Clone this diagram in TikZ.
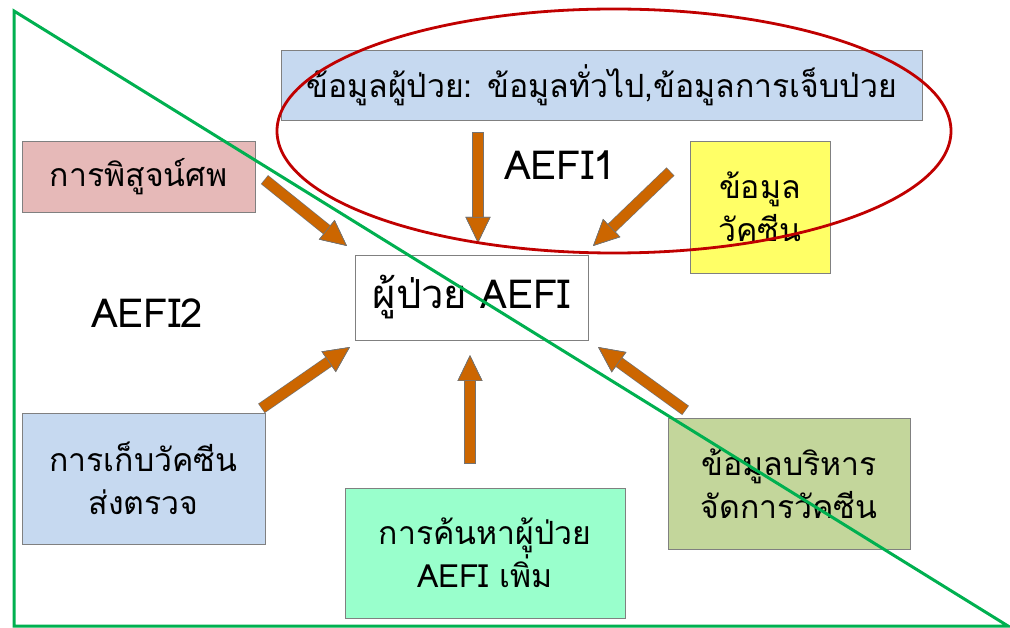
\documentclass[tikz,border=0pt]{standalone}
\usepackage{fontspec}
\setmainfont[Script=Thai]{Loma}
\usetikzlibrary{arrows.meta}

\definecolor{histblue}{RGB}{198,217,240}
\definecolor{autopsypink}{RGB}{230,185,184}
\definecolor{vacyellow}{RGB}{255,255,102}
\definecolor{samplblue}{RGB}{198,217,240}
\definecolor{searchmint}{RGB}{153,255,204}
\definecolor{adminolive}{RGB}{195,214,155}
\definecolor{feedorange}{RGB}{204,102,0}
\definecolor{ringred}{RGB}{192,0,0}
\definecolor{zonegreen}{RGB}{0,176,80}

\tikzset{
  infobox/.style={draw=black!50, line width=0.8pt, align=center, inner sep=0pt,
    font=\fontsize{32}{43}\selectfont},
  feed/.style={draw=feedorange, line width=10pt, line cap=butt,
    -{Triangle[width=25pt,length=26pt,line width=0.7pt,color=black!55,fill=feedorange]},
    preaction={draw=black!55, line width=11.4pt, shorten <=-0.7pt,
      -{Triangle[width=25pt,length=26pt,line width=0.7pt]}}},
  zonelabel/.style={font=\fontsize{40}{46}\selectfont}
}

\begin{document}
\begin{tikzpicture}[x=1pt,y=-1pt]
    \useasboundingbox (0,0) rectangle (1010,628);
    % boxes
    \node[infobox, fill=histblue, minimum width=641pt, minimum height=70pt] (history) at (601.5,85)
      {ข้อมูลผู้ป่วย: ข้อมูลทั่วไป,ข้อมูลการเจ็บป่วย};
    \node[infobox, fill=autopsypink, minimum width=233pt, minimum height=71pt] (autopsy) at (138.5,176.5)
      {การพิสูจน์ศพ};
    \node[infobox, fill=white, minimum width=233pt, minimum height=85pt,
      font=\fontsize{40}{46}\selectfont] (patient) at (471.5,297.5) {ผู้ป่วย AEFI};
    \node[infobox, fill=vacyellow, minimum width=140pt, minimum height=132pt] (vaccine) at (760,207)
      {ข้อมูล\\วัคซีน};
    \node[infobox, fill=samplblue, minimum width=243pt, minimum height=131pt] (sample) at (143.5,478.5)
      {การเก็บวัคซีน\\ส่งตรวจ};
    \node[infobox, fill=searchmint, minimum width=280pt, minimum height=130pt] (search) at (485,553)
      {การค้นหาผู้ป่วย\\AEFI เพิ่ม};
    \node[infobox, fill=adminolive, minimum width=242pt, minimum height=131pt] (admin) at (789,483.5)
      {ข้อมูลบริหาร\\จัดการวัคซีน};
    \node[zonelabel] (zone1) at (560,165) {AEFI1};
    \node[zonelabel] (zone2) at (147,313) {AEFI2};

    % arrow ends
    \coordinate (fromhist) at (478,133);   \coordinate (tohist) at (478,243);
    \coordinate (fromaut) at (265,180);    \coordinate (toaut) at (347,246);
    \coordinate (fromvac) at (670,172);    \coordinate (tovac) at (593,246);
    \coordinate (fromsamp) at (262,408);   \coordinate (tosamp) at (350,347);
    \coordinate (fromsrch) at (470,463);   \coordinate (tosrch) at (470,355);
    \coordinate (fromadm) at (685,410);    \coordinate (toadm) at (598,347);
    \foreach \a/\b in {fromhist/tohist, fromaut/toaut, fromvac/tovac,
                       fromsamp/tosamp, fromsrch/tosrch, fromadm/toadm}
      \draw[feed] (\a) -- (\b);

    % zones
    \draw[zonegreen, line width=3pt, line join=miter] (14,11) -- (14,626) -- (1008,626) -- cycle;
    \draw[ringred, line width=2.8pt] (614,131) ellipse [x radius=337, y radius=122];
  \end{tikzpicture}
\end{document}
